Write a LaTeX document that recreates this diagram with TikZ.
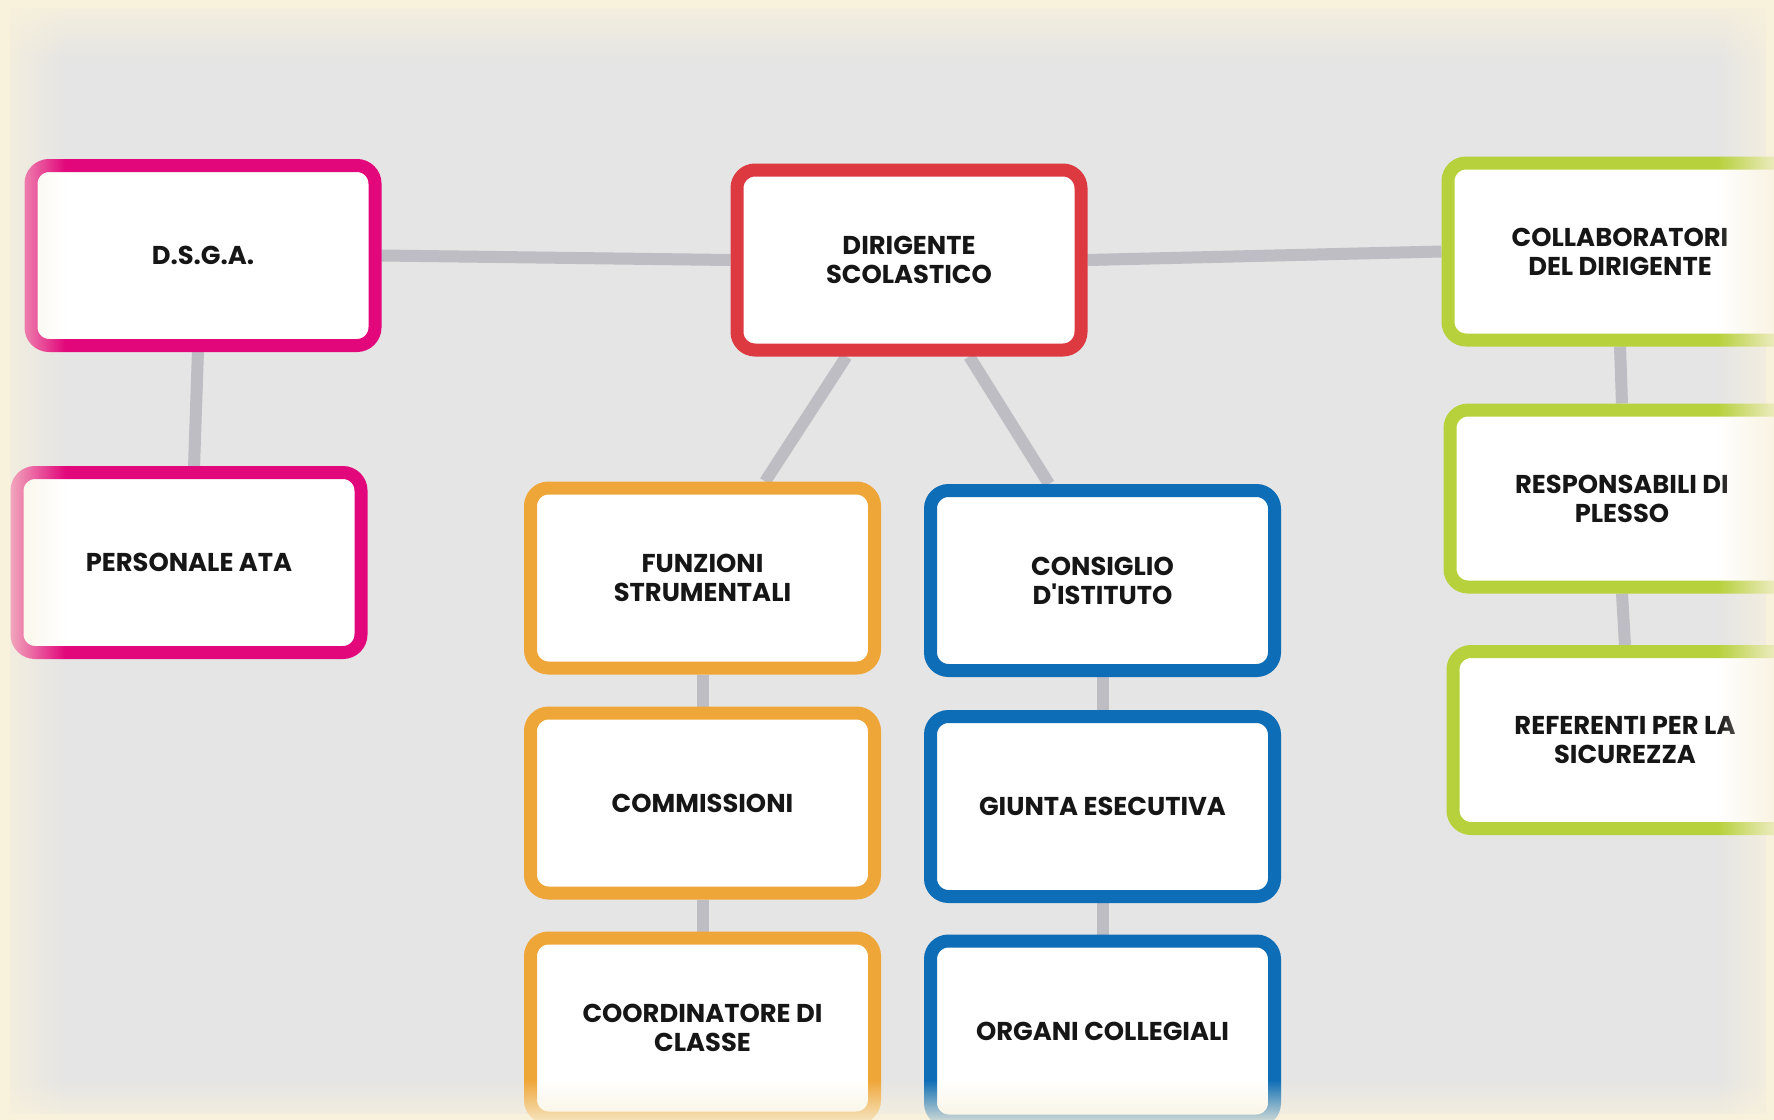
\documentclass[tikz,border=0pt]{standalone}
\usepackage{fontspec}
\setmainfont{Poppins}
\usetikzlibrary{fadings}

\definecolor{cream}{HTML}{F8F1DC}
\definecolor{panel}{HTML}{E5E5E5}
\definecolor{linkgray}{HTML}{BDBDC3}
\definecolor{cPink}{HTML}{E2087C}
\definecolor{cRed}{HTML}{DC3A40}
\definecolor{cOrange}{HTML}{EFA638}
\definecolor{cBlue}{HTML}{0D6DB6}
\definecolor{cGreen}{HTML}{B7D13C}
\definecolor{ink}{HTML}{161616}

% soft edges of the grey panel
\tikzfading[name=fadeE, left color=transparent!100, right color=transparent!0]
\tikzfading[name=fadeW, left color=transparent!0, right color=transparent!100]
\tikzfading[name=fadeN, top color=transparent!0, bottom color=transparent!100]
\tikzfading[name=fadeS, top color=transparent!100, bottom color=transparent!0]

\pgfdeclarelayer{bg}
\pgfsetlayers{bg,main}

\begin{document}
\begin{tikzpicture}[x=0.5pt,y=-0.5pt,
  box/.style={draw=#1, fill=white, line width=6.5pt, rounded corners=9pt,
    minimum width=172pt, minimum height=90pt, inner sep=0pt, align=center,
    font=\bfseries\fontsize{12.9}{14.5}\selectfont, text=ink},
  link/.style={draw=linkgray, line width=6pt}]

\useasboundingbox (0,0) rectangle (1774,1120);

\begin{pgfonlayer}{bg}
  \fill[cream] (0,0) rectangle (1774,1120);
  \fill[panel] (10,8) rectangle (1766,1114);
\end{pgfonlayer}

% left branch
\node[box=cPink] (dsga) at (203,255.5) {D.S.G.A.};
\node[box=cPink] (ata)  at (189,562.5) {PERSONALE ATA};

% head
\node[box=cRed] (ds) at (909,260) {DIRIGENTE\\SCOLASTICO};

% centre-left column
\node[box=cOrange] (fs)    at (702.5,578)  {FUNZIONI\\STRUMENTALI};
\node[box=cOrange] (comm)  at (702.5,803)  {COMMISSIONI};
\node[box=cOrange] (coord) at (702.5,1028) {COORDINATORE DI\\CLASSE};

% centre-right column
\node[box=cBlue] (ci)  at (1102.5,580.5) {CONSIGLIO\\D\textquotesingle ISTITUTO};
\node[box=cBlue] (ge)  at (1102.5,806.5) {GIUNTA ESECUTIVA};
\node[box=cBlue] (oc)  at (1102.5,1031)  {ORGANI COLLEGIALI};

% right column
\node[box=cGreen, minimum height=88.5pt] (coll) at (1620,251.5) {COLLABORATORI\\DEL DIRIGENTE};
\node[box=cGreen, minimum height=88.5pt] (resp) at (1622,498.5) {RESPONSABILI DI\\PLESSO};
\node[box=cGreen, minimum height=88.5pt] (ref)  at (1625,740)   {REFERENTI PER LA\\SICUREZZA};

% connectors
\begin{pgfonlayer}{bg}
  \draw[link] (dsga.east) -- (ds.west);
  \draw[link] (ds.east) -- (coll.west);
  \draw[link] (dsga.-93) -- (ata.87.6);
  \draw[link] (ds.-123) -- (fs.57);
  \draw[link] (ds.-58.7) -- (ci.119.9);
  \draw[link] (fs.south) -- (comm.north);
  \draw[link] (comm.south) -- (coord.north);
  \draw[link] (ci.south) -- (ge.north);
  \draw[link] (ge.south) -- (oc.north);
  \draw[link] (coll.south) -- (resp.north);
  \draw[link] (resp.south) -- (ref.north);
\end{pgfonlayer}

% cream margins fading into the panel
\fill[cream, path fading=fadeW] (-15,-10) rectangle (65,1130);
\fill[cream, path fading=fadeN] (-10,-7.5) rectangle (1784,62.5);
\fill[cream, path fading=fadeE] (1717.5,-10) rectangle (1787.5,1130);
\fill[cream, path fading=fadeS] (-10,1080) rectangle (1784,1130);
\end{tikzpicture}
\end{document}
